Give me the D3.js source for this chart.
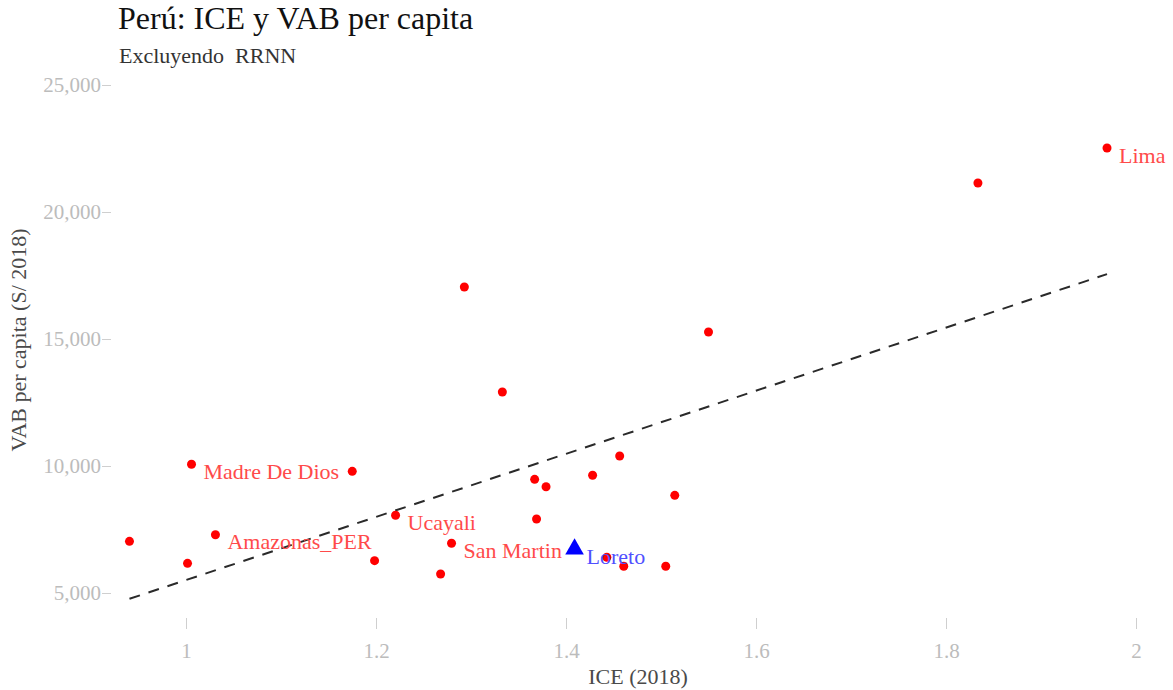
<!DOCTYPE html>
<html>
<head>
<meta charset="utf-8">
<script src="https://cdn.jsdelivr.net/npm/d3@7"></script>
<style>
  body { margin: 0; background: #fff; }
  text { font-family: "Liberation Serif", "Times New Roman", serif; }
</style>
</head>
<body>
<script>
// Datos: ICE (2018) y VAB per capita (S/ 2018), excluyendo RRNN
var ice = [0.9405, 1.0016, 1.0058, 1.031, 1.175, 1.1985, 1.2206, 1.268, 1.2795, 1.293, 1.333, 1.367,
           1.379, 1.369, 1.409, 1.443, 1.4608, 1.428, 1.4565, 1.505, 1.5145, 1.55, 1.8336, 1.9695];
var vab = [7035, 6169, 10067, 7295, 9791, 6272, 8059, 5748, 6957, 17047, 12913, 9476,
           9185, 7913, 6732, 6406, 6051, 9634, 10394, 6051, 8846, 15276, 21142, 22520];
// only some points carry a label
var etiquetas = ["", "", "Madre De Dios", "Amazonas_PER", "", "", "Ucayali", "", "San Martin", "", "", "",
                 "", "", "Loreto", "", "", "", "", "", "", "", "", "Lima"];
var destacado = "Loreto";

var xTicks = [1, 1.2, 1.4, 1.6, 1.8, 2];
var yTicks = [5000, 10000, 15000, 20000, 25000];

var width = 1173;
var height = 690;

var svg = d3.select("body")
			.append("svg")
			.attr("width", width)
			.attr("height", height);

// scales
var x = d3.scaleLinear().domain([1, 2]).range([186, 1136]);
var y = d3.scaleLinear().domain([5000, 25000]).range([593, 85]);

var datos = ice.map(function(d, i) {
	return { ice: d, vab: vab[i], nombre: etiquetas[i] };
});

// titles
svg.append("text")
	.attr("x", 118).attr("y", 29)
	.style("font-size", "32px")
	.style("fill", "#111")
	.text("Perú: ICE y VAB per capita");

svg.append("text")
	.attr("x", 119).attr("y", 63)
	.style("font-size", "22px")
	.style("fill", "#333")
	.style("white-space", "pre")
	.text("Excluyendo  RRNN");

// axes
var yAxis = svg.append("g")
	.attr("transform", "translate(111,0)")
	.call(d3.axisLeft(y).tickValues(yTicks).tickSize(9).tickPadding(1).tickFormat(d3.format(",")));

var xAxis = svg.append("g")
	.attr("transform", "translate(0,618)")
	.call(d3.axisBottom(x).tickValues(xTicks).tickSize(11).tickPadding(14).tickFormat(function(d) { return String(d); }));

[yAxis, xAxis].forEach(function(a) {
	a.select(".domain").remove();
	a.selectAll("line").style("stroke", "#cfcfcf");
	a.selectAll("text")
		.style("font-family", "'Liberation Serif', serif")
		.style("font-size", "21px")
		.style("fill", "#bcbcbc");
});

// axis titles
svg.append("text")
	.attr("x", 638).attr("y", 684)
	.attr("text-anchor", "middle")
	.style("font-size", "22px")
	.style("fill", "#4a4a4a")
	.text("ICE (2018)");

svg.append("text")
	.attr("transform", "translate(26,340) rotate(-90)")
	.attr("text-anchor", "middle")
	.style("font-size", "22px")
	.style("fill", "#4a4a4a")
	.text("VAB per capita (S/ 2018)");

// OLS fit over all points, drawn across the data range
var mx = d3.mean(ice), my = d3.mean(vab);
var sxy = d3.sum(ice, function(d, i) { return (d - mx) * (vab[i] - my); });
var sxx = d3.sum(ice, function(d) { return (d - mx) * (d - mx); });
var pendiente = sxy / sxx;
var intercepto = my - pendiente * mx;
var extremos = d3.extent(ice);

svg.append("path")
	.datum(extremos)
	.attr("d", d3.line()
		.x(function(d) { return x(d); })
		.y(function(d) { return y(intercepto + pendiente * d); }))
	.style("fill", "none")
	.style("stroke", "#2a2a2a")
	.style("stroke-width", 2)
	.style("stroke-dasharray", "11,9");

// points
svg.selectAll("circle")
	.data(datos.filter(function(d) { return d.nombre !== destacado; }))
	.enter()
	.append("circle")
	.attr("cx", function(d) { return x(d.ice); })
	.attr("cy", function(d) { return y(d.vab); })
	.attr("r", 4.5)
	.style("fill", "#ff0000");

svg.selectAll("path.tri")
	.data(datos.filter(function(d) { return d.nombre === destacado; }))
	.enter()
	.append("path")
	.attr("class", "tri")
	.attr("transform", function(d) { return "translate(" + x(d.ice) + "," + y(d.vab) + ")"; })
	.attr("d", d3.symbol().type(d3.symbolTriangle).size(150))
	.style("fill", "#0000ff");

// labels
svg.selectAll("text.lab")
	.data(datos.filter(function(d) { return d.nombre !== ""; }))
	.enter()
	.append("text")
	.attr("class", "lab")
	.attr("x", function(d) { return x(d.ice) + 12; })
	.attr("y", function(d) { return y(d.vab) + 7; })
	.attr("dy", "0.35em")
	.style("font-size", "22px")
	.style("fill", function(d) { return d.nombre === destacado ? "#5050ff" : "#ff4a4a"; })
	.text(function(d) { return d.nombre; });
</script>
</body>
</html>
